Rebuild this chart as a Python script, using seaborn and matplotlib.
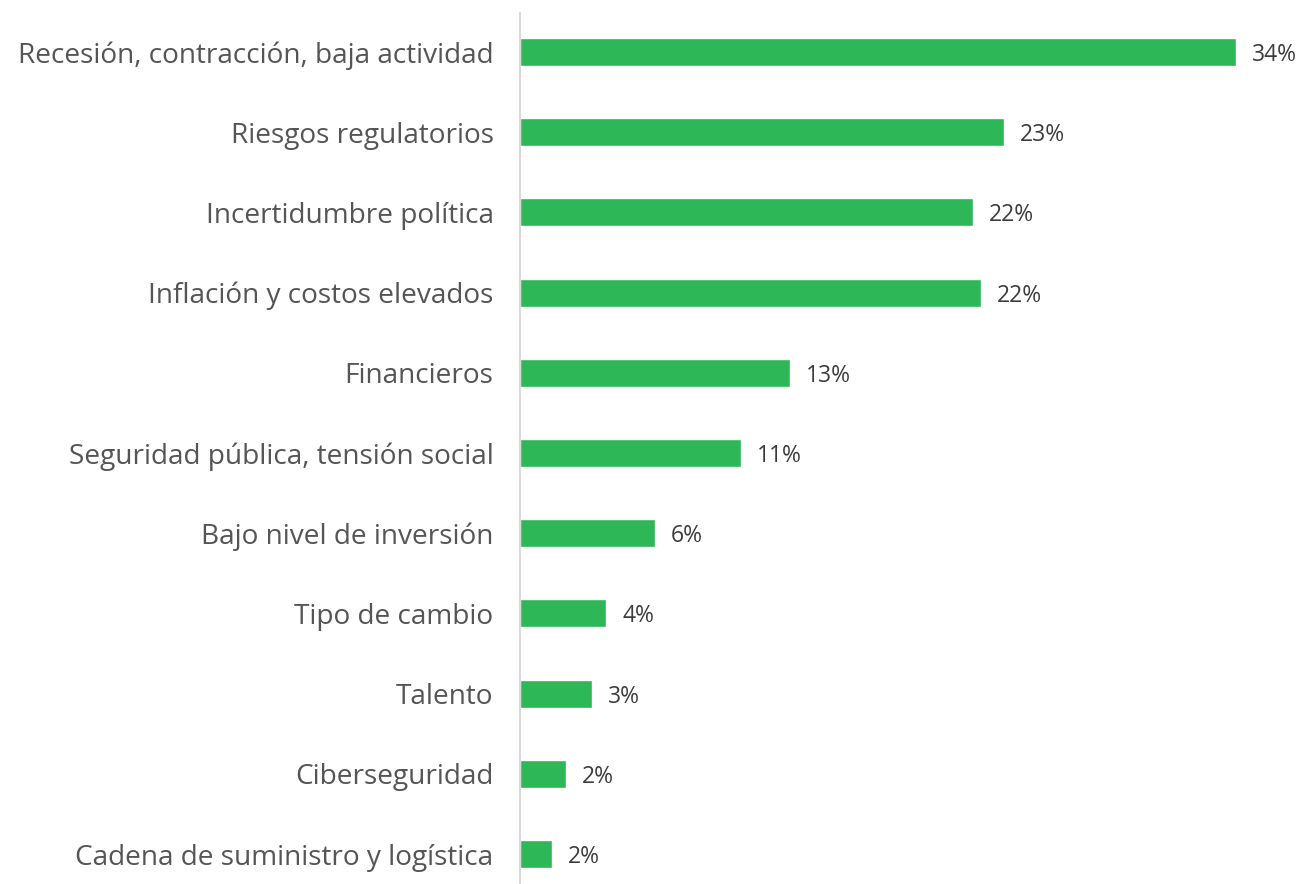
import math
import matplotlib
matplotlib.use("Agg")
import matplotlib.pyplot as plt
import pandas as pd
import seaborn as sns

# Principales riesgos percibidos (% de menciones)
categorias = [
    "Recesión, contracción, baja actividad",
    "Riesgos regulatorios",
    "Incertidumbre política",
    "Inflación y costos elevados",
    "Financieros",
    "Seguridad pública, tensión social",
    "Bajo nivel de inversión",
    "Tipo de cambio",
    "Talento",
    "Ciberseguridad",
    "Cadena de suministro y logística",
]
porcentajes = [34.0, 23.0, 21.5, 21.9, 12.8, 10.5, 6.4, 4.1, 3.4, 2.2, 1.5]

df = pd.DataFrame({"categoria": categorias, "porcentaje": porcentajes})

sns.set_theme(style="white")
plt.rcParams["font.family"] = ["Open Sans", "DejaVu Sans"]

VERDE = "#2DB757"
GRIS_TEXTO = "#555555"
GRIS_VALOR = "#3c3c3c"

fig = plt.figure(figsize=(13.07, 8.84), dpi=100)
ax = fig.add_axes([520 / 1307, 0.0, 758 / 1307, 1 - 13 / 884])

sns.barplot(data=df, x="porcentaje", y="categoria", orient="h",
            color=VERDE, saturation=1, width=0.35, ax=ax)

ax.set_xlim(0, 36)
ax.set_ylim(10.374, -0.486)

for i, v in enumerate(porcentajes):
    etiqueta = f"{math.floor(v + 0.5)}%"
    ax.annotate(etiqueta, xy=(v, i), xytext=(11.5, 0), textcoords="offset points",
                ha="left", va="center_baseline", fontsize=16.5, color=GRIS_VALOR)

ax.set_xlabel("")
ax.set_ylabel("")
ax.set_xticks([])
ax.tick_params(axis="y", length=0, pad=19, labelsize=20.2, labelcolor=GRIS_TEXTO)

for lado in ["top", "right", "bottom"]:
    ax.spines[lado].set_visible(False)
ax.spines["left"].set_color("#d9d9d9")
ax.spines["left"].set_linewidth(1.5)

fig.savefig("out.png", dpi=100, facecolor="white")
